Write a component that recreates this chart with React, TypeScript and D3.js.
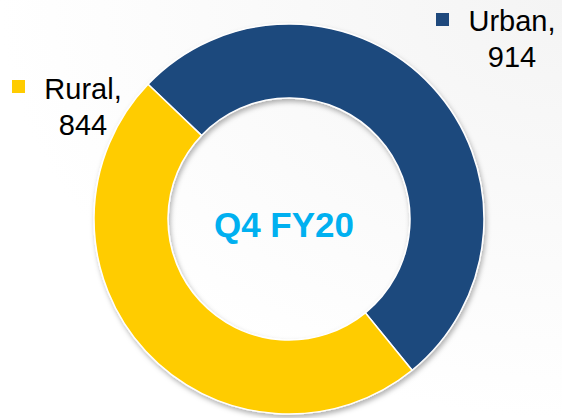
import React from "react";
import * as d3 from "d3";

const categories = ["Urban", "Rural"];
const values = [914, 844];
const colors = ["#1F497D", "#FFCC00"];
const centerLabel = "Q4 FY20";

const W = 562;
const H = 418;
const cx = 289;
const cy = 219;
const outerR = 195;
const innerR = 121;

export default function App() {
  const data = categories.map((c, i) => ({ c, v: values[i], color: colors[i] }));
  const pie = d3
    .pie<any>()
    .value((d) => d.v)
    .sort(null)
    .startAngle((-46.3 * Math.PI) / 180)
    .endAngle(((360 - 46.3) * Math.PI) / 180);
  const arcs = pie(data);
  const arc = d3.arc<any>().innerRadius(innerR).outerRadius(outerR);

  const font = "'Liberation Sans', Arial, sans-serif";
  const legend = [
    { i: 1, sq: [12, 80], tx: 83, y1: 99 },
    { i: 0, sq: [436, 13], tx: 512, y1: 31 },
  ];

  return (
    <svg
      width={W}
      height={H}
      style={{ position: "absolute", left: 0, top: 0, background: "#fff" }}
    >
      <defs>
        <filter id="sh" x="-20%" y="-20%" width="140%" height="140%">
          <feDropShadow dx="1.5" dy="3" stdDeviation="2.5" floodColor="#000" floodOpacity="0.3" />
        </filter>
        <radialGradient id="bg" cx="1" cy="0" r="1">
          <stop offset="0" stopColor="#F4F4F4" />
          <stop offset="1" stopColor="#fff" />
        </radialGradient>
      </defs>
      <rect x={0} y={0} width={W} height={H} fill="url(#bg)" />
      <g transform={`translate(${cx},${cy})`} filter="url(#sh)">
        {arcs.map((a, k) => (
          <path key={k} d={arc(a) as string} fill={a.data.color} stroke="#fff" strokeWidth={1.5} />
        ))}
      </g>
      <text
        x={284}
        y={237}
        textAnchor="middle"
        fontFamily={font}
        fontWeight="bold"
        fontSize={35}
        fill="#00B0F0"
      >
        {centerLabel}
      </text>
      {legend.map((l) => (
        <g key={l.i}>
          <rect x={l.sq[0]} y={l.sq[1]} width={13} height={13} fill={colors[l.i]} />
          <text x={l.tx} y={l.y1} textAnchor="middle" fontFamily={font} fontSize={29} fill="#000">
            {categories[l.i]},
          </text>
          <text x={l.tx} y={l.y1 + 36} textAnchor="middle" fontFamily={font} fontSize={29} fill="#000">
            {values[l.i]}
          </text>
        </g>
      ))}
    </svg>
  );
}
